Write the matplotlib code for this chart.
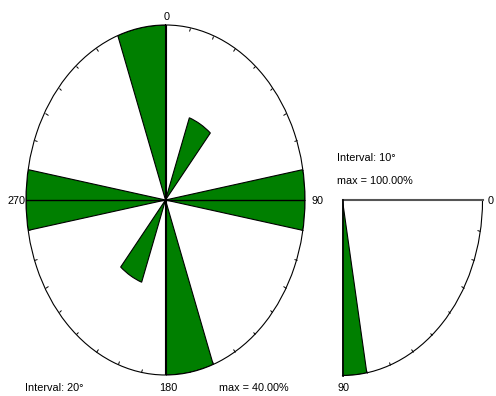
import numpy as np
import matplotlib.pyplot as plt

# azimuth rose, 20 deg bins (bidirectional)
rose_dirs = [30, 90, 170, 210, 270, 350]   # bin centres, deg
rose_pct = [20, 40, 40, 20, 40, 40]
rose_bin = 20
rose_max = 40

# dip quarter rose, 10 deg bins
dip_dirs = [85]
dip_pct = [100]
dip_bin = 10
dip_max = 100

green = '#007f00'
W, H = 496, 396

plt.rcParams['font.family'] = ['Liberation Sans', 'DejaVu Sans']
plt.rcParams['font.size'] = 7.8

fig = plt.figure(figsize=(W / 100, H / 100), dpi=100)


def rect(x0, y0, x1, y1):
    # pixel box -> figure fraction
    return [x0 / W, 1 - y1 / H, (x1 - x0) / W, (y1 - y0) / H]


bg = fig.add_axes([0, 0, 1, 1])
bg.set_xlim(0, W)
bg.set_ylim(H, 0)
bg.axis('off')

# main rose
ax = fig.add_axes(rect(26, 25, 305, 375), projection='polar')
ax.set_aspect('auto')
ax.set_theta_zero_location('N')
ax.set_theta_direction(-1)
ax.bar(np.radians(rose_dirs), rose_pct, width=np.radians(rose_bin),
       color=green, edgecolor='black', linewidth=0.8, zorder=2)
ax.plot(np.radians([90, 90, 270]), [rose_max, 0, rose_max], color='black', lw=1, zorder=3)
ax.plot(np.radians([0, 0, 180]), [rose_max, 0, rose_max], color='black', lw=0.8, zorder=3)
ax.set_ylim(0, rose_max)
ax.set_yticks([])
ax.set_xticks(np.radians(np.arange(0, 360, 10)))
ax.set_xticklabels([])
ax.tick_params(axis='x', direction='in', length=2.3, width=0.7,
               tick1On=False, tick2On=True, color='black')
ax.grid(False)
ax.spines['polar'].set_linewidth(0.8)

# dip quarter
ax2 = fig.add_axes(rect(342.5, 200.5, 482.5, 375.5), projection='polar')
ax2.set_aspect('auto')
ax2.set_theta_zero_location('E')
ax2.set_theta_direction(-1)
ax2.set_thetamin(0)
ax2.set_thetamax(90)
ax2.bar(np.radians(dip_dirs), dip_pct, width=np.radians(dip_bin),
        color=green, edgecolor='black', linewidth=0.8, zorder=2)
ax2.set_ylim(0, dip_max)
ax2.set_yticks([])
ax2.set_xticks(np.radians(np.arange(0, 91, 10)))
ax2.set_xticklabels([])
ax2.tick_params(axis='x', direction='in', length=2.3, width=0.7,
                tick1On=False, tick2On=True, color='black')
ax2.grid(False)
ax2.spines['polar'].set_linewidth(0.8)
ax2.spines['start'].set_color('#555555')
ax2.spines['start'].set_linewidth(1.5)
ax2.spines['end'].set_linewidth(1.2)

# labels
bg.text(167, 17, '0', ha='center', va='center')
bg.text(311, 201, '90', ha='left', va='center')
bg.text(168, 388, '180', ha='center', va='center')
bg.text(25, 201, '270', ha='right', va='center')
bg.text(25, 388, 'Interval: 20°', ha='left', va='center')
bg.text(219, 388, 'max = %.2f%%' % rose_max, ha='left', va='center')

bg.text(337, 158, 'Interval: 10°', ha='left', va='center')
bg.text(337, 181, 'max = %.2f%%' % dip_max, ha='left', va='center')
bg.text(488, 201, '0', ha='left', va='center')
bg.text(337, 388, '90', ha='left', va='center')

fig.savefig('out.png', dpi=100)
